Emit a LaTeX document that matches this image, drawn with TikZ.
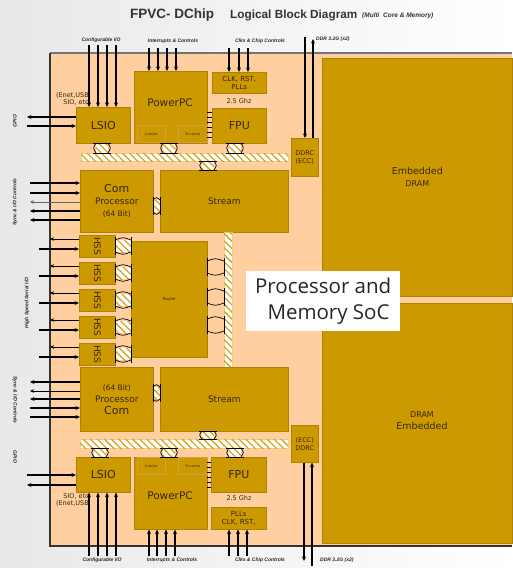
\documentclass[tikz,border=0pt]{standalone}
\usepackage{fontspec}
\setmainfont{DejaVu Sans}
\newfontfamily\titlefont{Liberation Sans}
\newfontfamily\socfont{Open Sans}
\usetikzlibrary{arrows.meta,patterns.meta}
\definecolor{peach}{RGB}{255,207,160}
\definecolor{gold}{RGB}{204,153,0}
\definecolor{golddark}{RGB}{176,130,0}
\definecolor{hatch}{RGB}{214,164,30}
\definecolor{ink}{RGB}{55,40,5}
\newcommand\vlink[4][hatchfill]{%
 \fill[#1] ({#2-6},#3) rectangle ({#2+6},#4);
 \draw[line width=0.7pt] ({#2-9},#3) -- ({#2+9},#3) ({#2-9},#4) -- ({#2+9},#4);
 \draw[line width=0.7pt] ({#2-6},#3) .. controls ({#2-9},{(#3+#4)/2}) .. ({#2-6},#4);
 \draw[line width=0.7pt] ({#2+6},#3) .. controls ({#2+9},{(#3+#4)/2}) .. ({#2+6},#4);}
\newcommand\hlink[4][hatchfill]{%
 \fill[#1] (#3,{#2-6}) rectangle (#4,{#2+6});
 \draw[line width=0.7pt] (#3,{#2-9}) -- (#3,{#2+9}) (#4,{#2-9}) -- (#4,{#2+9});
 \draw[line width=0.7pt] (#3,{#2-6}) .. controls ({(#3+#4)/2},{#2-9}) .. (#4,{#2-6});
 \draw[line width=0.7pt] (#3,{#2+6}) .. controls ({(#3+#4)/2},{#2+9}) .. (#4,{#2+6});}
\begin{document}
\begin{tikzpicture}[x=1pt,y=-1pt,
  blk/.style={fill=gold, draw=golddark, line width=0.6pt, inner sep=0pt, anchor=north west, text=ink, align=center},
  sub/.style={blk, draw=golddark!60!peach, font=\fontsize{3.5}{4}\selectfont},
  sz/.style 2 args={minimum width=#1, minimum height=#2},
  hatchfill/.style={fill=white, postaction={pattern={Lines[angle=-45,distance=5pt,line width=1.3pt]}, pattern color=hatch}},
  bar/.style={hatchfill, draw=hatch!50, line width=0.4pt, inner sep=0pt, anchor=north west},
  arr/.style={line width=1.1pt, -{Stealth[length=4.5pt,width=4pt]}},
  arrt/.style={line width=0.7pt, -{Stealth[length=4pt,width=3.5pt]}},
  lbl/.style={font=\titlefont\fontsize{5}{6}\selectfont\bfseries\itshape, text=black!85, inner sep=0pt},
  txt/.style={text=ink, inner sep=0pt, align=center},
  ]
\useasboundingbox (0,0) rectangle (512,568);
\shade[left color=black!9, right color=white] (0,0) rectangle (512,568);
% chip
\fill[peach] (50,53) rectangle (512,546);
\draw[black!55, line width=1.2pt] (512,53) -- (50,53);
\draw[black!80, line width=1.3pt] (50,53) -- (50,547);
\draw[black!80, line width=2.6pt] (49,546) -- (512,546);
% title
\node[font=\titlefont\bfseries\fontsize{13.5}{15}\selectfont, text=black!80, anchor=west, inner sep=0pt] (t1) at (130,15) {FPVC- DChip};
\node[font=\titlefont\bfseries\fontsize{11.8}{14}\selectfont, text=black!80, anchor=west, inner sep=0pt] (t2) at (230,15) {Logical Block Diagram};
\node[font=\titlefont\bfseries\itshape\fontsize{6.5}{8}\selectfont, text=black!80, anchor=west, inner sep=0pt] (t3) at (362,16) {(Multi\ \ Core \& Memory)};
% DRAM
\node[blk, sz={190}{238}] (dramT) at (322,58) {{\fontsize{9.5}{11}\selectfont Embedded}\\{\fontsize{8}{10}\selectfont DRAM}};
\node[blk, sz={190}{240}] (dramB) at (322,303) {};
\node[txt, font=\fontsize{8}{10}\selectfont] (dramBl1) at (422,415) {DRAM};
\node[txt, font=\fontsize{9.5}{11}\selectfont] (dramBl2) at (422,426) {Embedded};
% DDRC
\node[blk, sz={27}{38}, font=\fontsize{6.5}{8}\selectfont] (ddrcT) at (291,138) {DDRC\\(ECC)};
\node[blk, sz={27}{37}, font=\fontsize{6.5}{8}\selectfont] (ddrcB) at (291,425) {(ECC)\\DDRC};
% top half
\node[blk, sz={54}{36}, font=\fontsize{11}{12}\selectfont] (lsioT) at (76,107) {LSIO};
\node[blk, sz={73}{72}] (ppcT) at (134,71) {};
\node[txt, font=\fontsize{10.5}{12}\selectfont] (ppcTl) at (170,103) {PowerPC};
\node[sub, sz={28}{17}] (icT) at (137,125) {I-cache};
\node[sub, sz={29}{17}] (dcT) at (178,125) {D-cache};
\node[blk, sz={54}{21}, font=\fontsize{7}{8}\selectfont] (clkT) at (212,72) {CLK, RST,\\PLLs};
\node[txt, font=\fontsize{6.5}{8}\selectfont] (ghzT) at (239,101) {2.5 Ghz};
\node[blk, sz={54}{35}, font=\fontsize{11}{12}\selectfont] (fpuT) at (212,108) {FPU};
\node[bar, sz={207}{8}] (busT) at (81,153) {};
\node[blk, sz={73}{62}] (comT) at (80,170) {{\fontsize{11}{13}\selectfont Com}\\{\fontsize{9}{11}\selectfont Processor}\\{\fontsize{7.5}{9}\selectfont (64 Bit)}};
\node[blk, sz={128}{62}, font=\fontsize{9}{10}\selectfont] (strT) at (160,170) {Stream};
\node[txt, font=\fontsize{6.5}{7.5}\selectfont, align=right, anchor=east] (enetT) at (89,99) {(Enet,USB\\SIO, etc};
% HSS and router
\foreach \y [count=\i] in {235,262,289,316,343} {
  \node[blk, sz={36}{22}] (hss\i) at (79,\y) {};
  \node[txt, rotate=-90, font=\fontsize{9}{10}\selectfont] at (hss\i.center) {HSS};
}
\node[blk, sz={76}{116}, font=\fontsize{4}{5}\selectfont] (router) at (131,241) {Router};
\node[bar, sz={8}{135}] (vbus) at (224,232) {};
% bottom half
\node[blk, sz={73}{64}] (comB) at (80,367) {{\fontsize{7.5}{9}\selectfont (64 Bit)}\\{\fontsize{9}{11}\selectfont Processor}\\{\fontsize{11}{13}\selectfont Com}};
\node[blk, sz={128}{64}, font=\fontsize{9}{10}\selectfont] (strB) at (160,367) {Stream};
\node[bar, sz={208}{9}] (busB) at (80,439) {};
\node[blk, sz={54}{35}, font=\fontsize{11}{12}\selectfont] (lsioB) at (76,457) {LSIO};
\node[blk, sz={73}{72}] (ppcB) at (134,457) {};
\node[txt, font=\fontsize{10.5}{12}\selectfont] (ppcBl) at (170,496) {PowerPC};
\node[sub, sz={28}{17}] (icB) at (137,457) {I-cache};
\node[sub, sz={29}{17}] (dcB) at (178,457) {D-cache};
\node[blk, sz={55}{35}, font=\fontsize{11}{12}\selectfont] (fpuB) at (211,457) {FPU};
\node[txt, font=\fontsize{6.5}{8}\selectfont] (ghzB) at (239,498) {2.5 Ghz};
\node[blk, sz={55}{22}, font=\fontsize{7}{8}\selectfont] (clkB) at (211,507) {PLLs\\CLK, RST,};
\node[txt, font=\fontsize{6.5}{7.5}\selectfont, align=right, anchor=east] (enetB) at (89,500) {SIO, etc\\(Enet,USB};
% SoC label
\node[fill=white, sz={154}{60}, anchor=north west, inner sep=0pt, align=center, text=black!85, font=\socfont\fontsize{20.5}{26}\selectfont] (soc) at (246,271) {Processor and\\\ \ Memory SoC};
% bus links
\vlink{102}{143}{153}
\vlink{169}{143}{153}
\vlink{235}{143}{153}
\vlink{208}{161}{170}
\vlink{208}{431}{439}
\vlink{100}{448}{457}
\vlink{169}{448}{457}
\vlink{235}{448}{457}
\hlink{206}{153}{160}
\hlink{393}{153}{160}
\foreach \y in {246,273,300,327,354} {\hlink{\y}{115}{131}}
\foreach \y in {267,297,325} {\hlink[fill=peach]{\y}{207}{224}}
% PPC-FPU ticks
\foreach \y in {112,117,...,137} {\draw[line width=0.5pt] (207,\y) -- (212,\y);}
\foreach \y in {462,467,...,487} {\draw[line width=0.5pt] (207,\y) -- (211,\y);}
% top arrows
\foreach \x in {89,98,107,116} {\draw[arr] (\x,45) -- (\x,45 |- lsioT.north);}
\foreach \x in {149,158,167,176} {\draw[arr] (\x,48) -- (\x,48 |- ppcT.north);}
\foreach \x in {229,239,248} {\draw[arr] (\x,48) -- (\x,48 |- clkT.north);}
\draw[arr] (305,37) -- (305,37 |- ddrcT.north);
\draw[arr] (313,0 |- ddrcT.north) -- (313,39);
% bottom arrows
\foreach \x in {89,98,107,116} {\draw[arr] (\x,556) -- (\x,556 |- lsioB.south);}
\foreach \x in {149,157,166,175} {\draw[arr] (\x,556) -- (\x,556 |- ppcB.south);}
\foreach \x in {229,238,247} {\draw[arr] (\x,556) -- (\x,556 |- clkB.south);}
\draw[arr] (304,0 |- ddrcB.south) -- (304,561);
\draw[arr] (312,566) -- (312,0 |- ddrcB.south);
% GPIO
\draw[arr] (lsioT.west |- 0,117) -- (27,117);
\draw[arr] (27,126) -- (lsioT.west |- 0,126);
\draw[arr] (27,475) -- (lsioB.west |- 0,475);
\draw[arr] (lsioB.west |- 0,485) -- (27,485);
% Sync & I/O
\draw[arr] (30,183) -- (comT.west |- 0,183);
\draw[arr] (30,193) -- (comT.west |- 0,193);
\draw[arrt, black!60] (comT.west |- 0,202) -- (30,202);
\draw[arr] (comT.west |- 0,211) -- (30,211);
\draw[arr] (comT.west |- 0,220) -- (30,220);
\draw[arr] (comB.west |- 0,382) -- (30,382);
\draw[arrt] (comB.west |- 0,391) -- (30,391);
\draw[arr] (comB.west |- 0,399) -- (30,399);
\draw[arr] (30,408) -- (comB.west |- 0,408);
\draw[arr] (30,417) -- (comB.west |- 0,417);
% HSS arrows
\foreach \y [count=\i] in {235,262,289,316,343} {
  \pgfmathsetmacro\ya{\y+4}
  \pgfmathsetmacro\yb{\y+14}
  \draw[arrt] (hss\i.west |- 0,\ya) -- (50,\ya);
  \draw[arr] (39,\yb) -- (hss\i.west |- 0,\yb);
}
% outside labels
\node[lbl] (lt1) at (101,40) {Configurable I/O};
\node[lbl] (lt2) at (173,41) {Interrupts \& Controls};
\node[lbl] (lt3) at (260,41) {Clks \& Chip Controls};
\node[lbl, anchor=west] (lt4) at (316,39) {DDR 3.2G (x2)};
\node[lbl] (lb1) at (102,560) {Configurable I/O};
\node[lbl] (lb2) at (172,560) {Interrupts \& Controls};
\node[lbl] (lb3) at (260,560) {Clks \& Chip Controls};
\node[lbl, anchor=west] (lb4) at (320,560) {DDR 3.2G (x2)};
\node[lbl, rotate=90] (ll1) at (15,121) {GPIO};
\node[lbl, rotate=90] (ll2) at (15,202) {Sync \& I/O Controls};
\node[lbl, rotate=90] (ll3) at (27,303) {High Speed Serial I/O};
\node[lbl, rotate=-90] (ll4) at (15,400) {Sync \& I/O Controls};
\node[lbl, rotate=-90] (ll5) at (15,457) {GPIO};
\end{tikzpicture}
\end{document}
